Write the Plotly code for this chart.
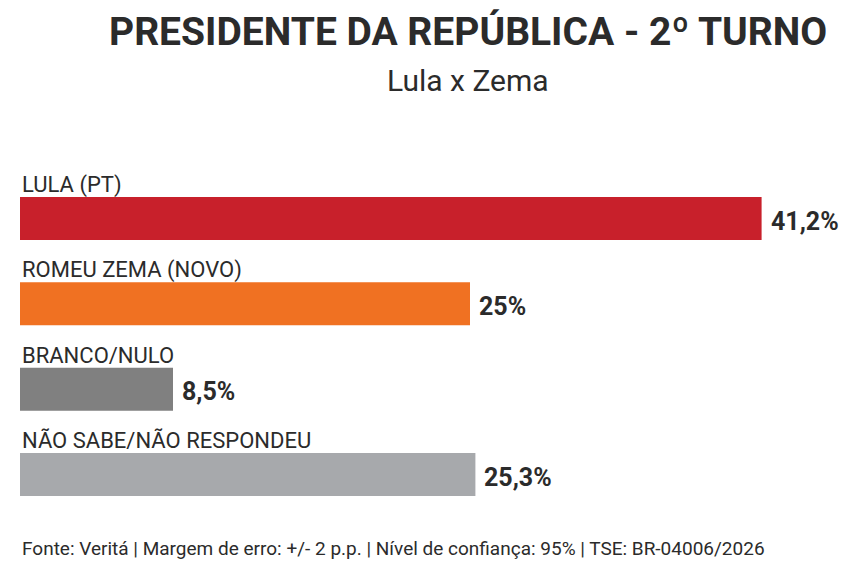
import plotly.graph_objects as go

categories = ["LULA (PT)", "ROMEU ZEMA (NOVO)", "BRANCO/NULO", "NÃO SABE/NÃO RESPONDEU"]
values = [41.2, 25.0, 8.5, 25.3]
value_labels = ["41,2%", "25%", "8,5%", "25,3%"]
colors = ["#C8202B", "#F07122", "#808080", "#A7A9AC"]

FONT = "Roboto, sans-serif"
TEXT = "#2b2b2b"

W, H = 850, 583
OFF = 8            # page body margin shifts the figure by 8px
px_per_unit = 18.0
row_px = 85.33
first_center = 218.5 - OFF
left_px = 20 - OFF

positions = list(range(len(categories)))

fig = go.Figure()
fig.add_trace(go.Bar(
    x=values,
    y=positions,
    orientation="h",
    width=0.504,
    marker=dict(color=colors, line_width=0),
    hoverinfo="skip",
))

# category labels above each bar, values to the right
for i, name in enumerate(categories):
    fig.add_annotation(
        x=0, y=i - 0.393, xref="x", yref="y",
        text=name, showarrow=False,
        xanchor="left", yanchor="middle",
        font=dict(family=FONT, size=22, color=TEXT),
    )
    fig.add_annotation(
        x=values[i], y=i + 0.03, xref="x", yref="y",
        text="<b>" + value_labels[i] + "</b>", showarrow=False,
        xanchor="left", yanchor="middle", xshift=7,
        font=dict(family=FONT, size=25, color=TEXT),
    )

y_top = -first_center / row_px
y_bot = y_top + H / row_px
x_min = -left_px / px_per_unit

fig.update_xaxes(visible=False, range=[x_min, x_min + W / px_per_unit])
fig.update_yaxes(visible=False, range=[y_bot, y_top])

fig.add_annotation(
    x=(468 - OFF) / W, y=1, xref="paper", yref="paper",
    text="<b>PRESIDENTE DA REPÚBLICA - 2º TURNO</b>", showarrow=False,
    xanchor="center", yanchor="top", borderpad=0,
    font=dict(family=FONT, size=39, color=TEXT),
)
fig.add_annotation(
    x=(468 - OFF) / W, y=1 - (81 - OFF) / H, xref="paper", yref="paper",
    text="Lula x Zema", showarrow=False,
    xanchor="center", yanchor="middle",
    font=dict(family=FONT, size=30, color=TEXT),
)
fig.add_annotation(
    x=(20 - OFF) / W, y=1 - (548 - OFF) / H, xref="paper", yref="paper",
    text="Fonte: Veritá | Margem de erro: +/- 2 p.p. | Nível de confiança: 95% | TSE: BR-04006/2026",
    showarrow=False, xanchor="left", yanchor="middle",
    font=dict(family=FONT, size=19, color=TEXT),
)

fig.update_layout(
    width=W, height=H,
    margin=dict(l=0, r=0, t=0, b=0),
    paper_bgcolor="white", plot_bgcolor="white",
    showlegend=False,
)
fig.write_html("out.html")
